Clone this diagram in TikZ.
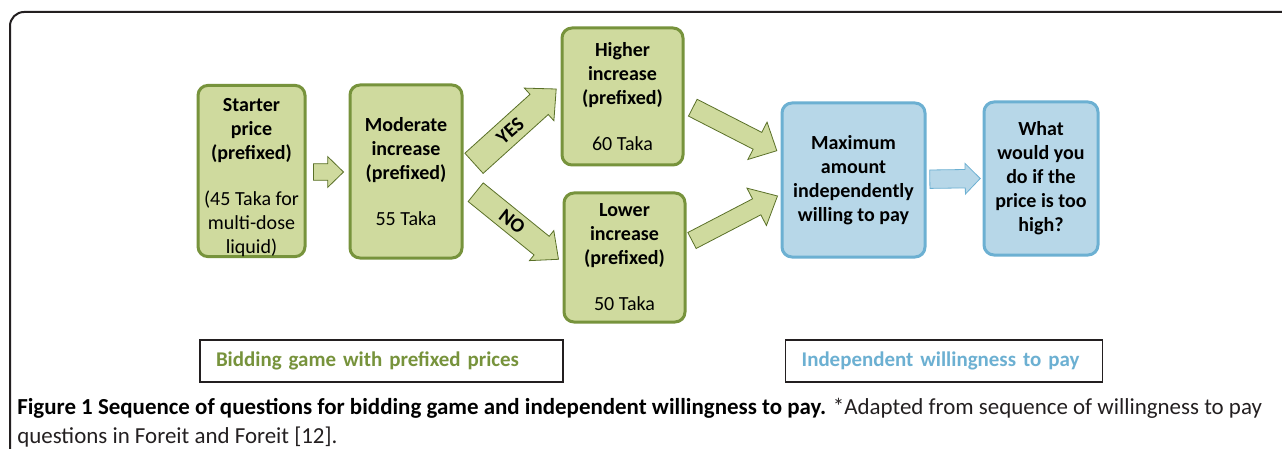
\documentclass[tikz,border=0pt]{standalone}
\usepackage{fontspec}
\setmainfont{Carlito}
\usetikzlibrary{calc}
\usetikzlibrary{positioning}

\definecolor{olivefill}{RGB}{207,218,158}
\definecolor{olivedraw}{RGB}{119,147,60}
\definecolor{olivedark}{RGB}{90,112,40}
\definecolor{bluefill}{RGB}{183,215,232}
\definecolor{bluedraw}{RGB}{108,176,210}
\definecolor{framecol}{RGB}{35,31,32}

% block arrow: [style]{start}{tip}{half shaft}{half head}{head length}
\newcommand{\blockarrow}[6][]{%
  \coordinate (ba) at ($(#3)!#6!(#2)$);
  \draw[#1] ($(#2)!#4!90:(#3)$) -- ($(ba)!#4!90:(#3)$) -- ($(ba)!#5!90:(#3)$) -- (#3)
    -- ($(ba)!#5!-90:(#3)$) -- ($(ba)!#4!-90:(#3)$) -- ($(#2)!#4!-90:(#3)$) -- cycle;
}

\tikzset{
  box/.style={rounded corners=7.5pt, line width=2.25pt, align=center, inner sep=0pt,
    font=\fontsize{15}{18}\selectfont\bfseries, execute at begin node={\rule{0pt}{15pt}}},
  gbox/.style={box, draw=olivedraw, fill=olivefill},
  bbox/.style={box, draw=bluedraw, fill=bluefill},
  garrow/.style={draw=olivedark, fill=olivefill, line width=0.6pt},
  barrow/.style={draw=bluedraw, fill=bluefill, line width=0.6pt},
  keybox/.style={draw=framecol, line width=1.1pt, minimum height=31.5pt, inner xsep=12pt,
    align=left, font=\fontsize{15.7}{18}\selectfont\bfseries},
  armlabel/.style={font=\fontsize{15}{18}\selectfont\bfseries, inner sep=0pt}
}

\begin{document}
\begin{tikzpicture}[x=0.75pt, y=-0.75pt]
\useasboundingbox (0,0) rectangle (1282,449);
\fill[white] (0,0) rectangle (1282,449);
\draw[framecol, line width=1.5pt, rounded corners=10.5pt] (1282,12) -- (10,12) -- (10,449);

% bidding game
\node[gbox, minimum width=80.25pt, minimum height=124.5pt] (starter) at (251.5,171)
  {\rule{0pt}{19.5pt}Starter\\price\\(prefixed)\\[16.5pt]\textmd{(45 Taka for}\\\textmd{multi-dose}\\\textmd{liquid)}};
\node[gbox, minimum width=84pt, minimum height=129.75pt] (moderate) at (406,171.5)
  {Moderate\\increase\\(prefixed)\\[16.5pt]\textmd{55 Taka}};
\node[gbox, minimum width=90.75pt, minimum height=102.75pt] (higher) at (622.5,96.5)
  {Higher\\increase\\(prefixed)\\[16.5pt]\textmd{60 Taka}};
\node[gbox, minimum width=90.75pt, minimum height=96.75pt] (lower) at (624.5,257.5)
  {Lower\\increase\\(prefixed)\\[16.5pt]\textmd{50 Taka}};

% independent willingness
\node[bbox, minimum width=107.25pt, minimum height=115.5pt] (maximum) at (853.5,180)
  {Maximum\\amount\\independently\\willing to pay};
\node[bbox, minimum width=85.5pt, minimum height=114.75pt] (toohigh) at (1041,178.5)
  {What\\would you\\do if the\\price is too\\high?};

% arrow ends
\coordinate (s1) at ($(starter.east)+(7,1)$);
\coordinate (t1) at ($(moderate.west)+(-5,0.5)$);
\coordinate (sy) at ($(moderate.east)+(10.5,-8.2)$);
\coordinate (ty) at ($(higher.west)+(-4.3,-7.5)$);
\coordinate (sn) at ($(moderate.east)+(12.2,20.7)$);
\coordinate (tn) at ($(lower.west)+(-4,1.8)$);
\coordinate (sh) at ($(higher.east)+(8.3,11.2)$);
\coordinate (th) at ($(maximum.west)+(-3.7,-29.3)$);
\coordinate (sl) at ($(lower.east)+(5.5,-17)$);
\coordinate (tl) at ($(maximum.west)+(-3,16)$);
\coordinate (sb) at ($(maximum.east)+(3.3,-0.8)$);
\coordinate (tb) at ($(toohigh.west)+(-2.3,0)$);

\blockarrow[garrow]{s1}{t1}{6.25pt}{11.5pt}{11.8pt}
\blockarrow[garrow]{sy}{ty}{10.2pt}{16.5pt}{17.25pt}
\blockarrow[garrow]{sn}{tn}{9pt}{14.5pt}{16.3pt}
\blockarrow[garrow]{sh}{th}{7.1pt}{15.75pt}{16.3pt}
\blockarrow[garrow]{sl}{tl}{6.75pt}{15.8pt}{17.6pt}
\blockarrow[barrow]{sb}{tb}{6.9pt}{11.5pt}{11.25pt}

\node[armlabel, rotate=41] (yes) at ($(sy)!0.44!(ty)$) {YES};
\node[armlabel, rotate=-38] (no) at ($(sn)!0.44!(tn)$) {NO};

% key
\node[keybox, text width=248.25pt, text=olivedraw] (keybid) at (381.5,361)
  {Bidding game with prefixed prices};
\node[keybox, text width=213.5pt, text=bluedraw] (keywtp) at (944,361)
  {Independent willingness to pay};

% caption
\node[anchor=base west, inner sep=0pt, align=left, text=framecol,
  font=\fontsize{17.2}{21.75}\selectfont] (caption) at (17,443)
  {\textbf{\color{black}Figure 1 Sequence of questions for bidding game and independent willingness to pay.} *Adapted from sequence of willingness to pay\\
   questions in Foreit and Foreit [12].};
\end{tikzpicture}
\end{document}
